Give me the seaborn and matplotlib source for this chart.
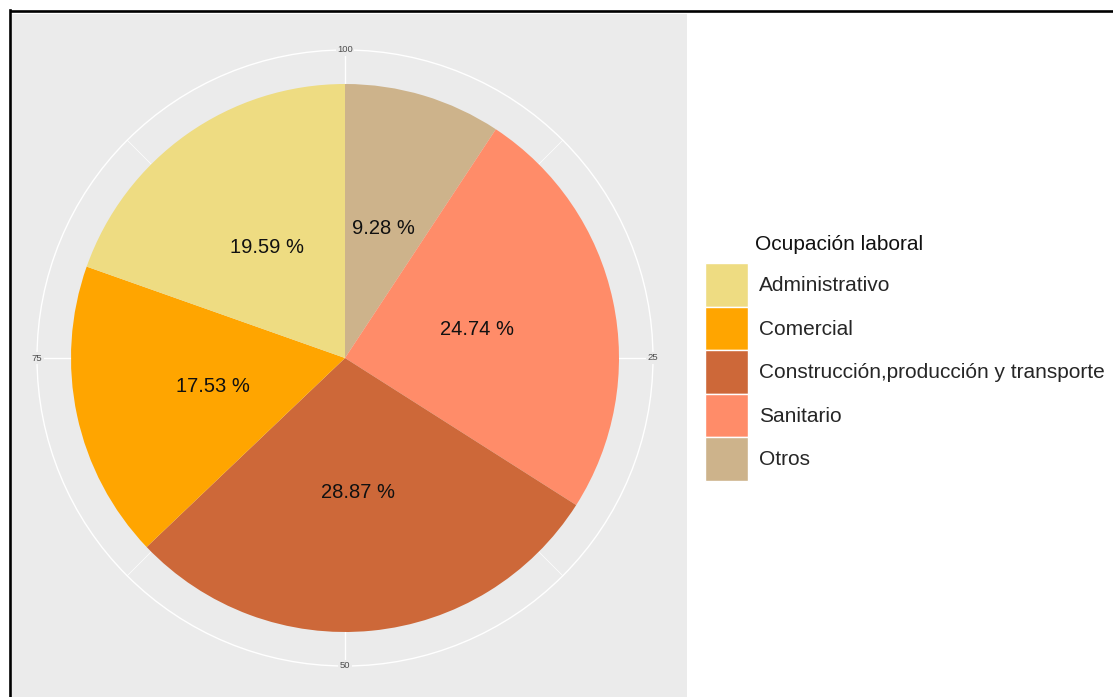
import matplotlib
matplotlib.use("Agg")
import matplotlib.pyplot as plt
import seaborn as sns
import numpy as np
from matplotlib.patches import Patch, Circle
from matplotlib.lines import Line2D

# Slices in drawing order, clockwise from 12 o'clock
categories = ["Otros", "Sanitario", "Construcción,producción y transporte",
              "Comercial", "Administrativo"]
shares = [9.28, 24.74, 28.87, 17.53, 19.59]

# Legend order
legend_order = ["Administrativo", "Comercial", "Construcción,producción y transporte",
                "Sanitario", "Otros"]

# Angular axis breaks (cumulative percent)
theta_breaks = [100, 25, 50, 75]
theta_minor = [12.5, 37.5, 62.5, 87.5]

palette = {
    "Administrativo": "#EEDC82",
    "Comercial": "#FFA500",
    "Construcción,producción y transporte": "#CD6839",
    "Sanitario": "#FF8C69",
    "Otros": "#CDB38B",
}

sns.set_theme(style="white")
plt.rcParams["font.family"] = ["Liberation Sans", "DejaVu Sans"]

W, H = 1113, 697
fig = plt.figure(figsize=(W / 100, H / 100), dpi=100)
fig.patch.set_facecolor("white")

# panel in pixel-like data units, origin at the pie centre
cx, cy = 345, 358
px0, px1, py0, py1 = 12, 687, 14, 697
ax = fig.add_axes([px0 / W, 0, (px1 - px0) / W, (py1 - py0) / H])

R_pie = 274
R_outer = 308
grid_col = "white"


def theta_xy(t, r):
    ang = np.deg2rad(90 - t / 100 * 360)
    return r * np.cos(ang), r * np.sin(ang)


# grid: minor and major spokes plus outer ring
for t in theta_minor:
    x, y = theta_xy(t, R_outer)
    ax.plot([0, x], [0, y], color=grid_col, lw=0.5, zorder=1)
for t in theta_breaks:
    x, y = theta_xy(t, R_outer)
    ax.plot([0, x], [0, y], color=grid_col, lw=1.0, zorder=1)
ax.add_patch(Circle((0, 0), R_outer, fill=False, ec=grid_col, lw=1.0, zorder=1))

vals = iter(shares)
wedges, _, autotexts = ax.pie(
    shares,
    colors=[palette[c] for c in categories],
    startangle=90,
    counterclock=False,
    radius=R_pie,
    center=(0, 0),
    frame=True,
    autopct=lambda p: f"{next(vals):.2f} %",
    pctdistance=0.493,
    wedgeprops=dict(linewidth=0),
    textprops=dict(fontsize=14.5, color="#111111"),
)
for w in wedges:
    w.set_zorder(2)
for t in autotexts:
    t.set_zorder(3)

# angular tick labels sitting on the outer ring
for t in theta_breaks:
    x, y = theta_xy(t, R_outer)
    ax.text(x, y, str(t), ha="center", va="center", fontsize=6.8, color="#4D4D4D",
            zorder=4,
            bbox=dict(boxstyle="square,pad=0.15", fc="#EBEBEB", ec="none"))

ax.set_xlim(px0 - cx, px1 - cx)
ax.set_ylim(cy - py1, cy - py0)
ax.set_aspect("auto")
ax.set_facecolor("#EBEBEB")
ax.set_xticks([])
ax.set_yticks([])
ax.grid(False)
for s in ax.spines.values():
    s.set_visible(False)

# legend
handles = [Patch(facecolor=palette[c], edgecolor="white", linewidth=1) for c in legend_order]
fig.legend(handles, legend_order, loc="upper left",
           bbox_to_anchor=(705 / W, 1 - 263 / H), frameon=False, fontsize=15,
           handlelength=2.06, handleheight=2.84, handletextpad=0.53,
           labelspacing=0.0, borderpad=0, borderaxespad=0)
fig.text(755 / W, 1 - 244 / H, "Ocupación laboral", ha="left", va="center",
         fontsize=15, color="#111111")

# outer frame (top and left edges)
fig.add_artist(Line2D([10 / W, 1], [1 - 11 / H] * 2, color="black", lw=1.9,
                      solid_capstyle="butt"))
fig.add_artist(Line2D([10 / W] * 2, [0, 1 - 10 / H], color="black", lw=1.9,
                      solid_capstyle="projecting"))

fig.savefig("out.png", dpi=100)
